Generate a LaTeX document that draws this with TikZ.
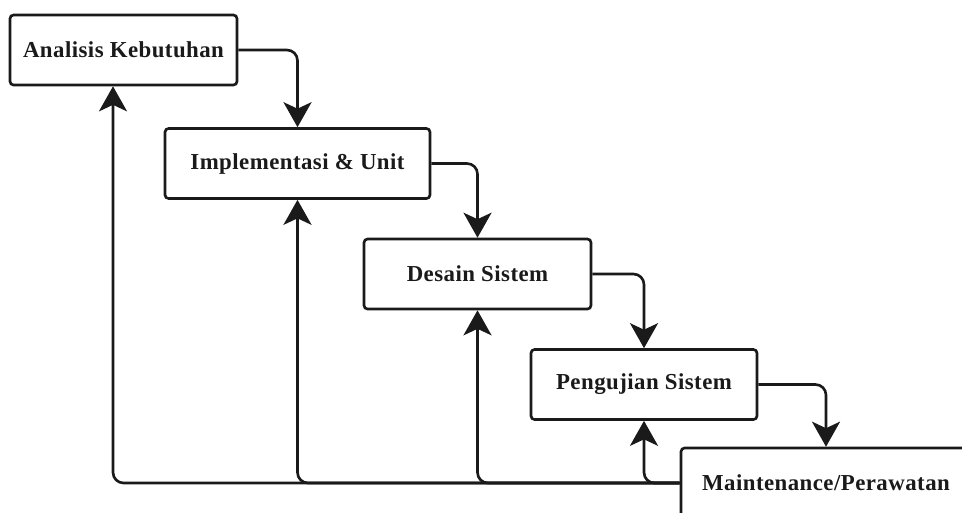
\documentclass[tikz,border=0pt]{standalone}
\usepackage{fontspec}
\setmainfont{Liberation Serif}[LetterSpace=2]
\usetikzlibrary{arrows.meta, positioning}
\definecolor{linecolor}{HTML}{1A1A1A}

\begin{document}
\begin{tikzpicture}[
    x=0.02cm, y=-0.02cm,
    phase/.style={rectangle, draw=linecolor, line width=1.5pt, rounded corners=2pt,
                  minimum height=1.4cm, fill=white, align=center, text=linecolor,
                  font=\bfseries\fontsize{13}{15}\selectfont},
    flow/.style={draw=linecolor, line width=1.5pt, rounded corners=6pt,
                 -{Stealth[length=0.5cm, width=0.56cm, inset=0.13cm]}},
]
\useasboundingbox (0,0) rectangle (962,512);
\clip (0,0) rectangle (962,512);
% Phases of the waterfall
\node[phase, minimum width=4.54cm] (analisis) at (123.5, 50) {Analisis Kebutuhan};
\node[phase, minimum width=5.3cm] (implementasi) at (297.5, 163.5) {Implementasi \& Unit};
\node[phase, minimum width=4.54cm] (desain) at (477.5, 274) {Desain Sistem};
\node[phase, minimum width=4.52cm] (pengujian) at (644, 384.5) {Pengujian Sistem};
\node[phase, minimum width=5.8cm] (maintenance) at (826, 483) {Maintenance/Perawatan};
% Forward flow
\draw[flow] (analisis.east) -| (implementasi.north);
\draw[flow] (implementasi.east) -| (desain.north);
\draw[flow] (desain.east) -| (pengujian.north);
\draw[flow] (pengujian.east) -| (maintenance.north);
% Feedback lines
\draw[flow] (maintenance.west) -| ([xshift=-0.21cm]analisis.south);
\draw[flow] (maintenance.west) -| (implementasi.south);
\draw[flow] (maintenance.west) -| (desain.south);
\draw[flow] (maintenance.west) -| (pengujian.south);
\end{tikzpicture}
\end{document}
